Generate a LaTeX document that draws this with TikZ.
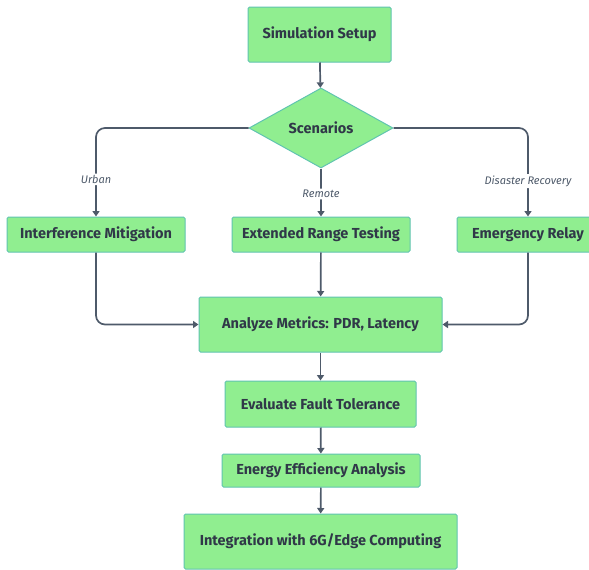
\documentclass[tikz,border=0pt]{standalone}
\usepackage{fontspec}
\setmainfont{Fira Sans}
\usetikzlibrary{shapes.geometric,arrows.meta}
\definecolor{boxfill}{RGB}{144,238,144}
\definecolor{boxline}{RGB}{96,196,176}
\definecolor{ink}{RGB}{48,56,72}
\definecolor{wire}{RGB}{78,90,106}
\tikzset{
  stepbox/.style={draw=boxline, fill=boxfill, line width=1pt, rounded corners=1.5pt,
    text=ink, font=\bfseries\fontsize{14.5}{16}\selectfont, inner sep=0pt},
  flow/.style={draw=wire, line width=1.7pt, rounded corners=9pt,
    -{Triangle[length=5.5pt,width=7pt]}},
  tag/.style={fill=white, inner sep=1.5pt, text=wire, font=\itshape\fontsize{11}{12}\selectfont}
}
\begin{document}
\begin{tikzpicture}[x=1pt,y=-1pt]
    \useasboundingbox [fill=white] (0,0) rectangle (589,570);
    % top of the flow
    \node [stepbox, minimum width=143pt, minimum height=55pt] (setup) at (319.5,34.5) {Simulation Setup};
    \node [stepbox, diamond, aspect=1.8, minimum width=144pt, minimum height=80pt, rounded corners=0pt] (scen) at (321,128) {Scenarios};
    % three branches
    \node [stepbox, minimum width=178pt, minimum height=35pt] (interf) at (96,234.5) {Interference Mitigation};
    \node [stepbox, minimum width=178pt, minimum height=35pt] (range) at (321,234.5) {Extended Range Testing};
    \node [stepbox, minimum width=142pt, minimum height=35pt] (relay) at (528,234.5) {Emergency Relay};
    % lower chain
    \node [stepbox, minimum width=243pt, minimum height=55pt] (metrics) at (320.5,324.5) {Analyze Metrics: PDR, Latency};
    \node [stepbox, minimum width=191pt, minimum height=46pt] (fault) at (320.5,404) {Evaluate Fault Tolerance};
    \node [stepbox, minimum width=198pt, minimum height=33pt] (energy) at (321,470.5) {Energy Efficiency Analysis};
    \node [stepbox, minimum width=273pt, minimum height=55pt] (integ) at (320.5,541.5) {Integration with 6G/Edge Computing};

    \draw [flow] (setup) -- (scen);
    \draw [flow] (scen.west) -| node [tag, pos=.79] {Urban} (interf.north);
    \draw [flow] (scen.south) -- node [tag, pos=.53] {Remote} (range.north);
    \draw [flow] (scen.east) -| node [tag, pos=.8] {Disaster Recovery} (relay.north);
    \draw [flow] (interf.south) |- (metrics.west);
    \draw [flow] (range) -- (metrics);
    \draw [flow] (relay.south) |- (metrics.east);
    \draw [flow] (metrics) -- (fault);
    \draw [flow] (fault) -- (energy);
    \draw [flow] (energy) -- (integ);
\end{tikzpicture}
\end{document}
